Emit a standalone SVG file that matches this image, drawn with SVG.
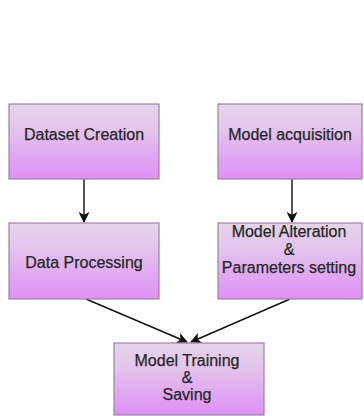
<svg xmlns="http://www.w3.org/2000/svg" width="364" height="416" viewBox="0 0 364 416">
  <defs>
    <linearGradient id="boxFill" x1="0" y1="0" x2="0" y2="1">
      <stop offset="0" stop-color="#e5d4ea"/>
      <stop offset="0.35" stop-color="#e3c3ec"/>
      <stop offset="1" stop-color="#df8ff6"/>
    </linearGradient>
    <marker id="arrow" viewBox="0 0 10 10" refX="9" refY="5" markerWidth="11" markerHeight="11" markerUnits="userSpaceOnUse" orient="auto">
      <path d="M0,0 L10,5 L0,10 L2.5,5 Z" fill="#111"/>
    </marker>
    <style>
      .box { fill: url(#boxFill); stroke: #9a82a4; stroke-width: 1.2; }
      .label { font-family: "Liberation Sans", Arial, sans-serif; font-size: 16px; fill: #262626; stroke: #262626; stroke-width: 0.25; text-anchor: middle; }
      .edge { stroke: #111; stroke-width: 1.4; fill: none; marker-end: url(#arrow); }
    </style>
  </defs>
  <rect width="364" height="416" fill="#ffffff"/>

  <g id="edges">
    <line class="edge" x1="84" y1="179" x2="84" y2="222"/>
    <line class="edge" x1="292" y1="179" x2="292" y2="222"/>
    <line class="edge" x1="86" y1="299" x2="187" y2="342"/>
    <line class="edge" x1="290" y1="299" x2="191" y2="342"/>
  </g>

  <g id="dataset-creation">
    <rect class="box" x="9" y="104" width="150" height="75"/>
    <text class="label" x="84" y="140">Dataset Creation</text>
  </g>

  <g id="model-acquisition">
    <rect class="box" x="218" y="104" width="144" height="75"/>
    <text class="label" x="290" y="140">Model acquisition</text>
  </g>

  <g id="data-processing">
    <rect class="box" x="9" y="223" width="150" height="76"/>
    <text class="label" x="84" y="268">Data Processing</text>
  </g>

  <g id="model-alteration">
    <rect class="box" x="218" y="223" width="144" height="76"/>
    <text class="label" x="289" y="237">Model Alteration</text>
    <text class="label" x="289" y="255">&amp;</text>
    <text class="label" x="289" y="273">Parameters setting</text>
  </g>

  <g id="model-training">
    <rect class="box" x="114" y="343" width="150" height="72"/>
    <text class="label" x="187" y="366">Model Training</text>
    <text class="label" x="187" y="383">&amp;</text>
    <text class="label" x="187" y="400">Saving</text>
  </g>
</svg>
